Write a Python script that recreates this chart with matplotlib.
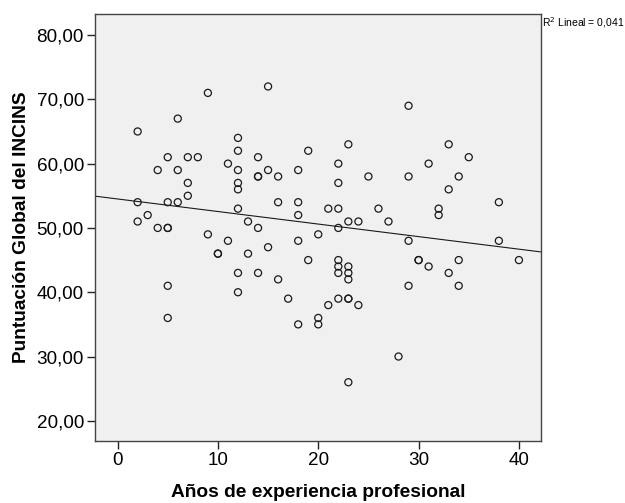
import numpy as np
import matplotlib
matplotlib.use("Agg")
import matplotlib.pyplot as plt

plt.rcParams['font.family'] = ['Liberation Sans', 'DejaVu Sans']

years = [2, 6, 9, 15, 12, 12, 5, 7, 8, 4, 6, 7, 7, 2, 5, 6, 11, 12, 12, 12, 12, 14, 14, 14, 15, 16, 18, 19, 16, 18,
         29, 23, 33, 35, 22, 31, 25, 29, 34, 22, 33, 38, 21, 22, 26, 32, 32,
         3, 2, 4, 5, 5, 13, 14, 18, 18, 9, 11, 10, 10, 13, 15, 19, 12, 14, 16, 17, 18, 12, 5, 5,
         23, 24, 27, 22, 20, 29, 38, 22, 22, 23, 23, 22, 23, 30, 30, 31, 34, 33, 40, 29, 34, 22, 23, 23, 21, 24, 20, 20, 28, 23]
scores = [65, 67, 71, 72, 64, 62, 61, 61, 61, 59, 59, 57, 55, 54, 54, 54, 60, 59, 57, 56, 53, 61, 58, 58, 59, 58, 59, 62, 54, 54,
          69, 63, 63, 61, 60, 60, 58, 58, 58, 57, 56, 54, 53, 53, 53, 53, 52,
          52, 51, 50, 50, 50, 51, 50, 52, 48, 49, 48, 46, 46, 46, 47, 45, 43, 43, 42, 39, 35, 40, 41, 36,
          51, 51, 51, 50, 49, 48, 48, 45, 44, 44, 43, 43, 42, 45, 45, 44, 45, 43, 45, 41, 41, 39, 39, 39, 38, 38, 36, 35, 30, 26]

x_ticks = [0, 10, 20, 30, 40]
y_ticks = [20, 30, 40, 50, 60, 70, 80]
y_tick_labels = ["20,00", "30,00", "40,00", "50,00", "60,00", "70,00", "80,00"]
r2_label = "R$^2$ Lineal = 0,041"

x = np.array(years, dtype=float)
y = np.array(scores, dtype=float)

fig = plt.figure(figsize=(6.25, 5.03), dpi=100)
ax = fig.add_axes([95/625, 1 - 440.5/503, (541-95)/625, (440.5-14)/503])
ax.set_facecolor('#F0F0F0')

ax.scatter(x, y, s=26, facecolors='none', edgecolors='#1a1a1a', linewidths=0.9, zorder=3)

slope, intercept = np.polyfit(x, y, 1)
xl = np.array([-2.25, 42.2])
ax.plot(xl, intercept + slope * xl, color='#1a1a1a', linewidth=0.8, zorder=2)

ax.set_xlim(-2.25, 42.2)
ax.set_ylim(16.94, 83.27)
ax.set_xticks(x_ticks)
ax.set_xticklabels([str(t) for t in x_ticks])
ax.set_yticks(y_ticks)
ax.set_yticklabels(y_tick_labels)
ax.tick_params(axis='both', labelsize=13.6, length=6, width=1, color='#222222', pad=2)

for sp in ax.spines.values():
    sp.set_color('#444444')
    sp.set_linewidth(1.0)

ax.set_xlabel("Años de experiencia profesional", fontsize=13.8, fontweight='bold', labelpad=11)
ax.set_ylabel("Puntuación Global del INCINS", fontsize=13.8, fontweight='bold', labelpad=5)

fig.text(542/625, 1 - 23/503, r2_label, fontsize=7.5, va='center', ha='left')

fig.savefig("out.png", dpi=100, facecolor='white')
